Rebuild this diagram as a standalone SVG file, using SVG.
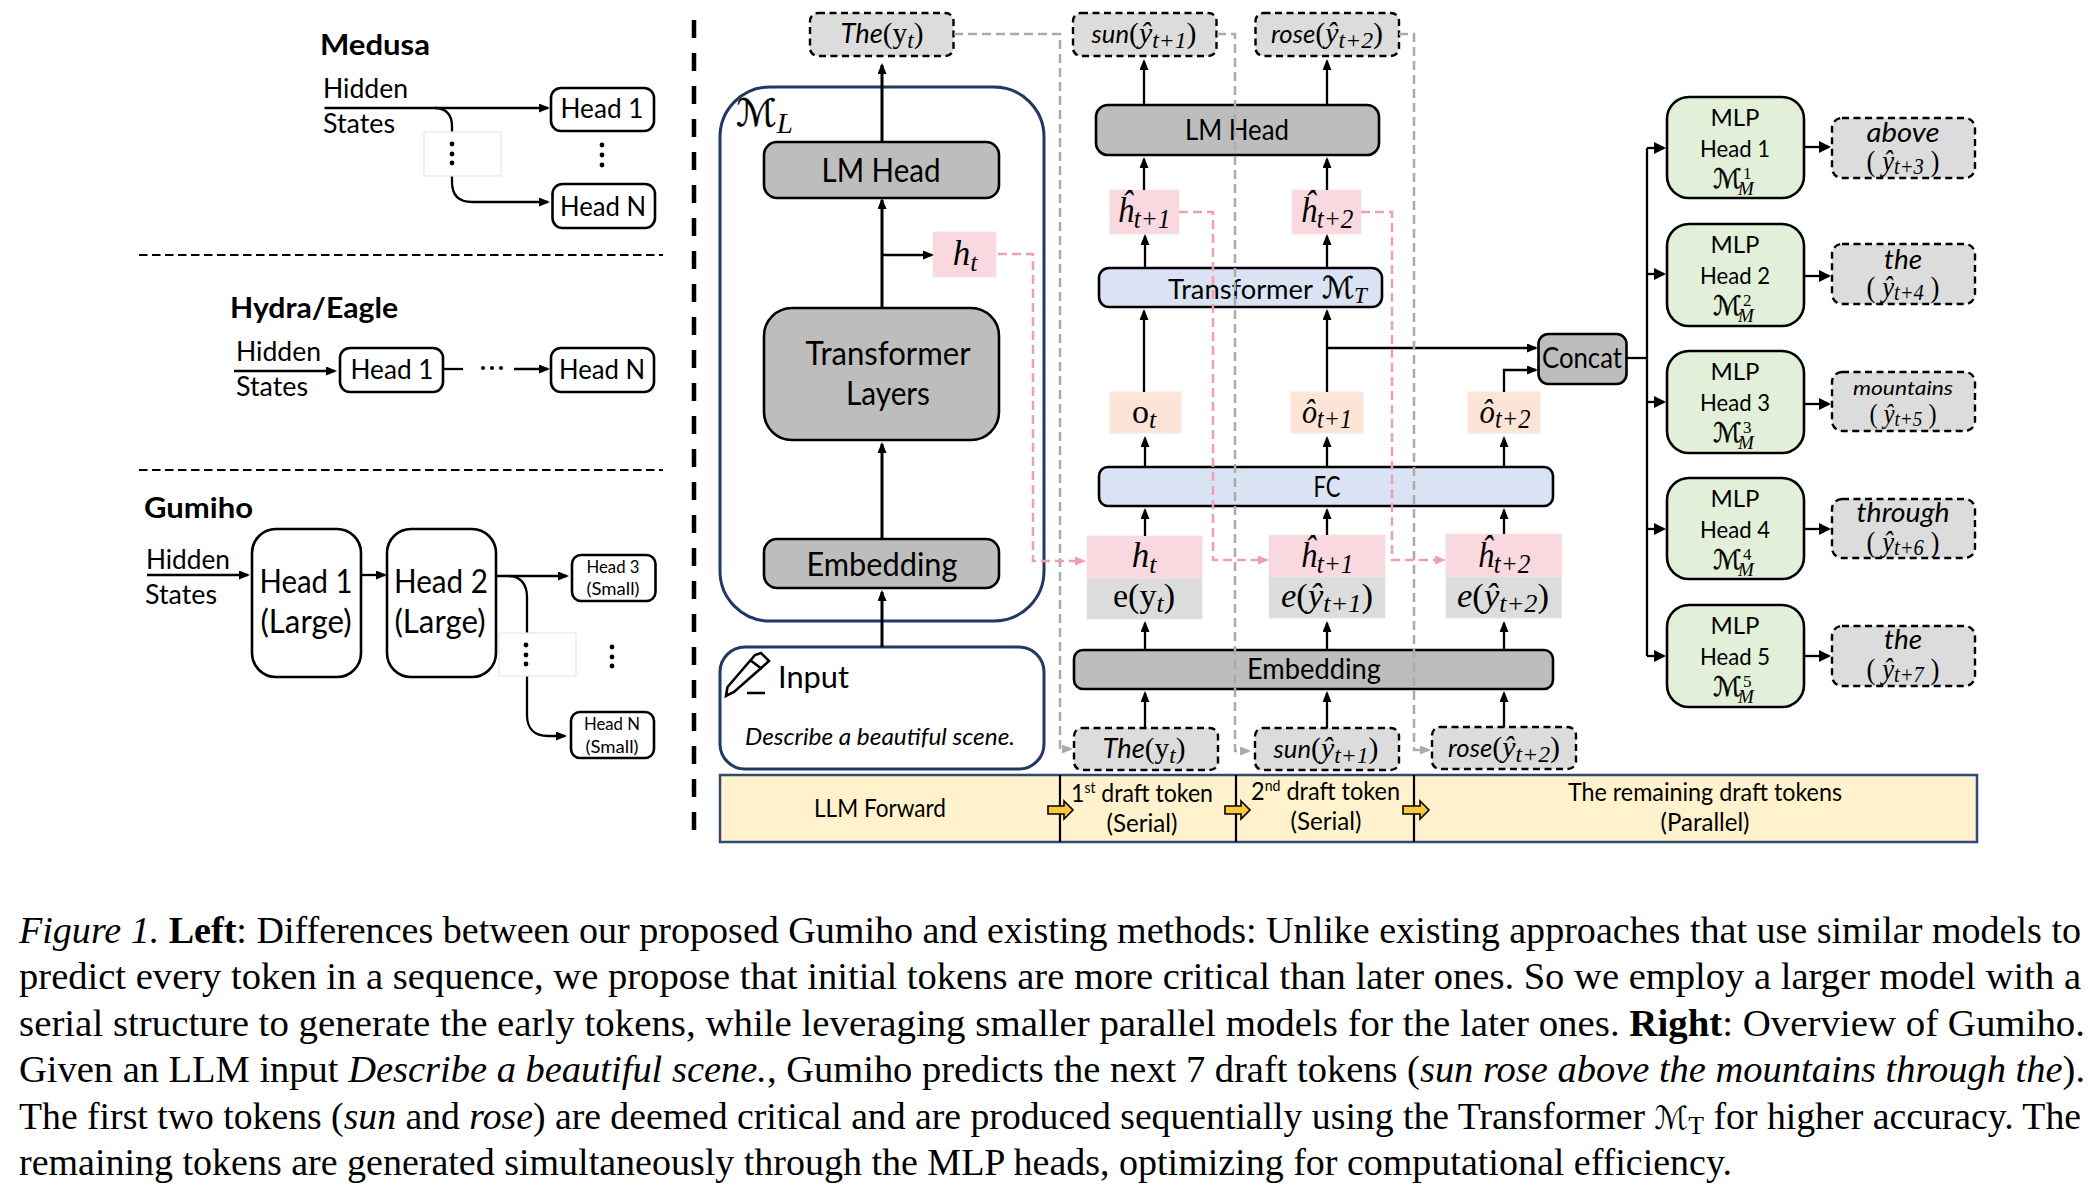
<svg xmlns="http://www.w3.org/2000/svg" width="2094" height="1200" viewBox="0 0 2094 1200">
<defs>
<style>
text{font-family:"Lato","Noto Sans",sans-serif;fill:#000}
.m{text-anchor:middle}
.b{font-weight:700;font-size:29px}
.t24{font-size:24px}.t26{font-size:26px}.t28{font-size:28px}.t32{font-size:32px}
.math{font-family:"Liberation Serif",serif}
.i{font-style:italic}
.script{font-family:"DejaVu Sans",sans-serif;font-style:normal;stroke:#000;stroke-width:.45}
.w{fill:#fff;stroke:#000;stroke-width:2.6}
.gb{fill:#bdbdbd;stroke:#000;stroke-width:2.6}
.bl{fill:#dae3f3;stroke:#000;stroke-width:2.6}
.gr{fill:#e2f0d9;stroke:#000;stroke-width:2.6}
.tok{fill:#dcdcdc;stroke:#000;stroke-width:2.4;stroke-dasharray:7 4.5}
.nv{fill:#fff;stroke:#1f3864;stroke-width:3}
.pk{fill:#f9d9df;stroke:#f0e3e5;stroke-width:1}
.og{fill:#fce4d6;stroke:#f5eadf;stroke-width:1}
.lg{fill:#dcdcdc;stroke:#e6e6e6;stroke-width:1}
.cv{fill:#fff;stroke:#e8e8e8;stroke-width:1.2}
.dot{fill:#000}
.c{fill:none;stroke:#000;stroke-width:2.3}
.c3{fill:none;stroke:#000;stroke-width:3}
.dg{fill:none;stroke:#ababab;stroke-width:2.5;stroke-dasharray:9 5}
.dp{fill:none;stroke:#ee9fb0;stroke-width:2.5;stroke-dasharray:9 5}
.sep{fill:none;stroke:#000;stroke-width:2.2;stroke-dasharray:8.5 4.5}
.sepv{fill:none;stroke:#000;stroke-width:4.5;stroke-dasharray:18 15}
.ya{fill:#f8c93e;stroke:#000;stroke-width:1.6}
.cap{font-family:"Liberation Serif",serif;font-size:38px}
.sup{font-family:"Liberation Serif",serif;font-size:17px;stroke:none}
.sub{font-family:"Liberation Serif",serif;font-size:19px;font-style:italic;stroke:none}
</style>
<marker id="a" markerUnits="userSpaceOnUse" viewBox="0 0 11 9" markerWidth="11" markerHeight="9" refX="9" refY="4.5" orient="auto"><path d="M0 0L11 4.5L0 9z" fill="#000"/></marker>
<marker id="al" markerUnits="userSpaceOnUse" viewBox="0 0 12 12" markerWidth="12" markerHeight="12" refX="10" refY="6" orient="auto"><path d="M0 0L12 6L0 12z" fill="#000"/></marker>
<marker id="ap" markerUnits="userSpaceOnUse" viewBox="0 0 11 9" markerWidth="11" markerHeight="9" refX="9" refY="4.5" orient="auto"><path d="M0 0L11 4.5L0 9z" fill="#ee9fb0"/></marker>
<marker id="ag" markerUnits="userSpaceOnUse" viewBox="0 0 11 9" markerWidth="11" markerHeight="9" refX="9" refY="4.5" orient="auto"><path d="M0 0L11 4.5L0 9z" fill="#ababab"/></marker>
</defs>
<rect width="2094" height="1200" fill="#fff"/>

<!-- Left panel titles and labels -->
<g id="labels-left">
<text class="b" x="320" y="55" textLength="110" lengthAdjust="spacingAndGlyphs">Medusa</text>
<text class="t26" x="323" y="98" textLength="85" lengthAdjust="spacingAndGlyphs">Hidden</text>
<text class="t26" x="323" y="133" textLength="72" lengthAdjust="spacingAndGlyphs">States</text>
<text class="b" x="230" y="318" textLength="168" lengthAdjust="spacingAndGlyphs">Hydra/Eagle</text>
<text class="t26" x="236" y="361" textLength="85" lengthAdjust="spacingAndGlyphs">Hidden</text>
<text class="t26" x="236" y="396" textLength="72" lengthAdjust="spacingAndGlyphs">States</text>
<text class="b" x="144" y="518" textLength="109" lengthAdjust="spacingAndGlyphs">Gumiho</text>
<text class="t26" x="146" y="569" textLength="84" lengthAdjust="spacingAndGlyphs">Hidden</text>
<text class="t26" x="145" y="604" textLength="72" lengthAdjust="spacingAndGlyphs">States</text>
</g>
<g id="separators">
<path class="sep" d="M139 255H663"/>
<path class="sep" d="M139 470H663"/>
<path class="sepv" d="M694 20V832"/>
</g>

<g id="medusa-head1"><rect class="w" x="551" y="88" width="103" height="43" rx="10"/><text class="m t26" x="602" y="118" textLength="83" lengthAdjust="spacingAndGlyphs">Head 1</text></g>
<g id="medusa-headN"><rect class="w" x="552.500" y="184" width="102.500" height="44" rx="10"/><text class="m t26" x="603" y="216" textLength="86" lengthAdjust="spacingAndGlyphs">Head N</text></g>
<g id="medusa-dots-right"><circle class="dot" cx="602" cy="145" r="2.4"/><circle class="dot" cx="602" cy="155" r="2.4"/><circle class="dot" cx="602" cy="165" r="2.4"/></g>

<g id="hydra-head1"><rect class="w" x="340" y="348" width="103" height="44" rx="10"/><text class="m t26" x="392" y="379" textLength="83" lengthAdjust="spacingAndGlyphs">Head 1</text></g>
<g id="hydra-headN"><rect class="w" x="551" y="348" width="103" height="44" rx="10"/><text class="m t26" x="602" y="379" textLength="86" lengthAdjust="spacingAndGlyphs">Head N</text></g>
<g id="hydra-dots"><circle class="dot" cx="483" cy="368" r="2"/><circle class="dot" cx="492" cy="368" r="2"/><circle class="dot" cx="501" cy="368" r="2"/></g>

<g id="gumiho-head1"><rect class="w" x="252" y="529" width="109" height="148" rx="24"/><text class="m t32" x="306" y="593" textLength="93" lengthAdjust="spacingAndGlyphs">Head 1</text><text class="m t32" x="306" y="633" textLength="91" lengthAdjust="spacingAndGlyphs">(Large)</text></g>
<g id="gumiho-head2"><rect class="w" x="387" y="529" width="109" height="148" rx="24"/><text class="m t32" x="441" y="593" textLength="94" lengthAdjust="spacingAndGlyphs">Head 2</text><text class="m t32" x="440" y="633" textLength="91" lengthAdjust="spacingAndGlyphs">(Large)</text></g>
<g id="gumiho-head3"><rect class="w" x="572" y="555" width="83.500" height="46" rx="9"/><text class="m" font-size="17" x="613" y="573" textLength="53" lengthAdjust="spacingAndGlyphs">Head 3</text><text class="m" font-size="17" x="613" y="595" textLength="53" lengthAdjust="spacingAndGlyphs">(Small)</text></g>
<g id="gumiho-headN"><rect class="w" x="571" y="712" width="83" height="46" rx="9"/><text class="m" font-size="17" x="612" y="730" textLength="56" lengthAdjust="spacingAndGlyphs">Head N</text><text class="m" font-size="17" x="612" y="753" textLength="53" lengthAdjust="spacingAndGlyphs">(Small)</text></g>
<g id="gumiho-dots-right"><circle class="dot" cx="612" cy="647" r="2.4"/><circle class="dot" cx="612" cy="657" r="2.4"/><circle class="dot" cx="612" cy="666" r="2.4"/></g>

<!-- Large model -->
<g id="model-large"><rect class="nv" x="720" y="87" width="324" height="534" rx="50"/><text x="736" y="126"><tspan class="script" font-size="38">ℳ</tspan><tspan class="math i" font-size="29" dy="7">L</tspan></text></g>
<g id="lm-head-large"><rect class="gb" x="764" y="142" width="235" height="56" rx="13"/><text class="m" font-size="32" x="881" y="182" textLength="119" lengthAdjust="spacingAndGlyphs">LM Head</text></g>
<g id="transformer-layers"><rect class="gb" x="764" y="308" width="235" height="132" rx="28"/><text class="m" font-size="32" x="888" y="365" textLength="165" lengthAdjust="spacingAndGlyphs">Transformer</text><text class="m" font-size="32" x="888" y="405" textLength="84" lengthAdjust="spacingAndGlyphs">Layers</text></g>
<g id="embedding-large"><rect class="gb" x="764" y="539" width="235" height="49" rx="13"/><text class="m" font-size="32" x="882" y="576" textLength="151" lengthAdjust="spacingAndGlyphs">Embedding</text></g>
<g id="ht-out"><rect class="pk" x="933" y="232" width="63" height="45"/><text class="m math i" font-size="35" x="965" y="265">h<tspan font-size="26" dy="6">t</tspan></text></g>
<g id="input"><rect class="nv" x="720" y="647" width="324" height="122" rx="25"/><path d="M727.500 687L755 655L761 653L769 661L734 692L726 696Z M750 660L762 669 M747 693H765" fill="none" stroke="#000" stroke-width="2.6"/><text x="778" y="688" font-size="30" textLength="71" lengthAdjust="spacingAndGlyphs">Input</text><text class="i" x="745" y="745" font-size="23" textLength="270" lengthAdjust="spacingAndGlyphs">Describe a beautiful scene.</text></g>

<g id="token-the-top"><rect class="tok" x="810" y="13" width="143.500" height="43" rx="8"/><text class="m" x="882" y="43" textLength="83" lengthAdjust="spacingAndGlyphs"><tspan class="i" font-size="27">The</tspan><tspan class="math" font-size="29">(y</tspan><tspan class="math i" font-size="23" dy="5">t</tspan><tspan class="math" font-size="29" dy="-5">)</tspan></text></g>
<g id="token-sun-top"><rect class="tok" x="1073" y="13" width="143.500" height="43" rx="8"/><text class="m" x="1144" y="43" textLength="105" lengthAdjust="spacingAndGlyphs"><tspan class="i" font-size="25">sun</tspan><tspan class="math" font-size="29">(</tspan><tspan class="math i" font-size="29">ŷ</tspan><tspan class="math i" font-size="23" dy="5">t+1</tspan><tspan class="math" font-size="29" dy="-5">)</tspan></text></g>
<g id="token-rose-top"><rect class="tok" x="1255.500" y="13" width="143.500" height="43" rx="8"/><text class="m" x="1327" y="43" textLength="112" lengthAdjust="spacingAndGlyphs"><tspan class="i" font-size="25">rose</tspan><tspan class="math" font-size="29">(</tspan><tspan class="math i" font-size="29">ŷ</tspan><tspan class="math i" font-size="23" dy="5">t+2</tspan><tspan class="math" font-size="29" dy="-5">)</tspan></text></g>

<g id="lm-head"><rect class="gb" x="1096" y="105" width="283" height="50" rx="12"/><text class="m" font-size="29" x="1237" y="140" textLength="104" lengthAdjust="spacingAndGlyphs">LM Head</text></g>
<g id="h-t1"><rect class="pk" x="1110" y="190" width="69" height="44"/><text class="m math i" font-size="35" x="1144" y="222" textLength="53" lengthAdjust="spacingAndGlyphs">ĥ<tspan font-size="27" dy="6">t+1</tspan></text></g>
<g id="h-t2"><rect class="pk" x="1292" y="190" width="69" height="44"/><text class="m math i" font-size="35" x="1327" y="222" textLength="53" lengthAdjust="spacingAndGlyphs">ĥ<tspan font-size="27" dy="6">t+2</tspan></text></g>
<g id="transformer-mt"><rect class="bl" x="1099" y="268" width="283" height="39" rx="10"/><text x="1168" y="299" font-size="27"><tspan textLength="145" lengthAdjust="spacingAndGlyphs">Transformer</tspan><tspan x="1322" y="298" class="script" font-size="30">ℳ</tspan><tspan class="math i" font-size="23" dy="5" style="stroke:none">T</tspan></text></g>
<g id="o-t"><rect class="og" x="1110" y="392" width="71" height="41"/><text class="m math" font-size="34" x="1144" y="423">o<tspan class="i" font-size="26" dy="5">t</tspan></text></g>
<g id="o-t1"><rect class="og" x="1291" y="392" width="72" height="41"/><text class="m math i" font-size="34" x="1327" y="423" textLength="50" lengthAdjust="spacingAndGlyphs">ô<tspan font-size="27" dy="5">t+1</tspan></text></g>
<g id="o-t2"><rect class="og" x="1468" y="392" width="72" height="41"/><text class="m math i" font-size="34" x="1505" y="423" textLength="51" lengthAdjust="spacingAndGlyphs">ô<tspan font-size="27" dy="5">t+2</tspan></text></g>
<g id="concat"><rect class="gb" x="1538.500" y="334" width="88" height="50" rx="10"/><text class="m" font-size="28" x="1582" y="368" textLength="80" lengthAdjust="spacingAndGlyphs">Concat</text></g>
<g id="fc"><rect class="bl" x="1099" y="467" width="454" height="39" rx="9"/><text class="m" font-size="28" x="1327" y="497" textLength="27" lengthAdjust="spacingAndGlyphs">FC</text></g>

<g id="stack-t"><rect class="pk" x="1087" y="536" width="115" height="42"/><rect class="lg" x="1087" y="578" width="115" height="41"/><text class="m math i" font-size="35" x="1144" y="567">h<tspan font-size="26" dy="6">t</tspan></text><text class="m math" font-size="33" x="1144" y="607" textLength="62" lengthAdjust="spacingAndGlyphs">e(y<tspan class="i" font-size="25" dy="5">t</tspan><tspan dy="-5">)</tspan></text></g>
<g id="stack-t1"><rect class="pk" x="1269" y="535" width="116" height="42"/><rect class="lg" x="1269" y="577" width="116" height="41"/><text class="m math i" font-size="35" x="1327" y="567" textLength="53" lengthAdjust="spacingAndGlyphs">ĥ<tspan font-size="27" dy="6">t+1</tspan></text><text class="m math i" font-size="33" x="1327" y="607" textLength="92" lengthAdjust="spacingAndGlyphs">e<tspan font-style="normal">(</tspan>ŷ<tspan font-size="25" dy="5">t+1</tspan><tspan font-style="normal" dy="-5">)</tspan></text></g>
<g id="stack-t2"><rect class="pk" x="1446" y="534" width="115.500" height="43"/><rect class="lg" x="1446" y="577" width="115.500" height="41"/><text class="m math i" font-size="35" x="1504" y="567" textLength="53" lengthAdjust="spacingAndGlyphs">ĥ<tspan font-size="27" dy="6">t+2</tspan></text><text class="m math i" font-size="33" x="1503" y="607" textLength="92" lengthAdjust="spacingAndGlyphs">e<tspan font-style="normal">(</tspan>ŷ<tspan font-size="25" dy="5">t+2</tspan><tspan font-style="normal" dy="-5">)</tspan></text></g>
<g id="embedding"><rect class="gb" x="1074" y="650" width="479" height="39" rx="9"/><text class="m" font-size="28" x="1314" y="679" textLength="134" lengthAdjust="spacingAndGlyphs">Embedding</text></g>

<g id="token-the"><rect class="tok" x="1074" y="728" width="144" height="42" rx="8"/><text class="m" x="1144" y="758" textLength="83" lengthAdjust="spacingAndGlyphs"><tspan class="i" font-size="27">The</tspan><tspan class="math" font-size="29">(y</tspan><tspan class="math i" font-size="23" dy="5">t</tspan><tspan class="math" font-size="29" dy="-5">)</tspan></text></g>
<g id="token-sun"><rect class="tok" x="1255" y="728" width="144" height="42" rx="8"/><text class="m" x="1326" y="758" textLength="105" lengthAdjust="spacingAndGlyphs"><tspan class="i" font-size="25">sun</tspan><tspan class="math" font-size="29">(</tspan><tspan class="math i" font-size="29">ŷ</tspan><tspan class="math i" font-size="23" dy="5">t+1</tspan><tspan class="math" font-size="29" dy="-5">)</tspan></text></g>
<g id="token-rose"><rect class="tok" x="1432" y="727" width="144" height="42" rx="8"/><text class="m" x="1504" y="757" textLength="112" lengthAdjust="spacingAndGlyphs"><tspan class="i" font-size="25">rose</tspan><tspan class="math" font-size="29">(</tspan><tspan class="math i" font-size="29">ŷ</tspan><tspan class="math i" font-size="23" dy="5">t+2</tspan><tspan class="math" font-size="29" dy="-5">)</tspan></text></g>

<!-- MLP heads -->
<g id="mlp-1"><rect class="gr" x="1667" y="97" width="137" height="101" rx="22"/><text class="m" font-size="24" x="1735" y="126">MLP</text><text class="m" font-size="24" x="1735" y="157" textLength="70" lengthAdjust="spacingAndGlyphs">Head 1</text><text x="1713" y="188"><tspan class="script" font-size="27">ℳ</tspan><tspan class="sup" x="1743" y="179">1</tspan><tspan class="sub" x="1738" y="195">M</tspan></text></g>
<g id="mlp-2"><rect class="gr" x="1667" y="224" width="137" height="102" rx="22"/><text class="m" font-size="24" x="1735" y="253">MLP</text><text class="m" font-size="24" x="1735" y="284" textLength="70" lengthAdjust="spacingAndGlyphs">Head 2</text><text x="1713" y="315"><tspan class="script" font-size="27">ℳ</tspan><tspan class="sup" x="1743" y="306">2</tspan><tspan class="sub" x="1738" y="322">M</tspan></text></g>
<g id="mlp-3"><rect class="gr" x="1667" y="351" width="137" height="102" rx="22"/><text class="m" font-size="24" x="1735" y="380">MLP</text><text class="m" font-size="24" x="1735" y="411" textLength="70" lengthAdjust="spacingAndGlyphs">Head 3</text><text x="1713" y="442"><tspan class="script" font-size="27">ℳ</tspan><tspan class="sup" x="1743" y="433">3</tspan><tspan class="sub" x="1738" y="449">M</tspan></text></g>
<g id="mlp-4"><rect class="gr" x="1667" y="478" width="137" height="101" rx="22"/><text class="m" font-size="24" x="1735" y="507">MLP</text><text class="m" font-size="24" x="1735" y="538" textLength="70" lengthAdjust="spacingAndGlyphs">Head 4</text><text x="1713" y="569"><tspan class="script" font-size="27">ℳ</tspan><tspan class="sup" x="1743" y="560">4</tspan><tspan class="sub" x="1738" y="576">M</tspan></text></g>
<g id="mlp-5"><rect class="gr" x="1667" y="605" width="137" height="102" rx="22"/><text class="m" font-size="24" x="1735" y="634">MLP</text><text class="m" font-size="24" x="1735" y="665" textLength="70" lengthAdjust="spacingAndGlyphs">Head 5</text><text x="1713" y="696"><tspan class="script" font-size="27">ℳ</tspan><tspan class="sup" x="1743" y="687">5</tspan><tspan class="sub" x="1738" y="703">M</tspan></text></g>

<g id="out-above"><rect class="tok" x="1832" y="118" width="143" height="60" rx="10"/><text class="m i" font-size="27" x="1903" y="142" textLength="73" lengthAdjust="spacingAndGlyphs">above</text><text class="m math" font-size="30" x="1903" y="171" textLength="73" lengthAdjust="spacingAndGlyphs">( <tspan class="i">ŷ</tspan><tspan class="i" font-size="23" dy="3">t+3</tspan><tspan dy="-3"> )</tspan></text></g>
<g id="out-the-1"><rect class="tok" x="1832" y="244" width="143" height="60" rx="10"/><text class="m i" font-size="27" x="1903" y="269" textLength="38" lengthAdjust="spacingAndGlyphs">the</text><text class="m math" font-size="30" x="1903" y="297" textLength="73" lengthAdjust="spacingAndGlyphs">( <tspan class="i">ŷ</tspan><tspan class="i" font-size="23" dy="3">t+4</tspan><tspan dy="-3"> )</tspan></text></g>
<g id="out-mountains"><rect class="tok" x="1832" y="372" width="143" height="59" rx="10"/><text class="m i" font-size="20" x="1903" y="395" textLength="100" lengthAdjust="spacingAndGlyphs">mountains</text><text class="m math" font-size="28" x="1903" y="423" textLength="67" lengthAdjust="spacingAndGlyphs">( <tspan class="i">ŷ</tspan><tspan class="i" font-size="22" dy="3">t+5</tspan><tspan dy="-3"> )</tspan></text></g>
<g id="out-through"><rect class="tok" x="1832" y="499" width="143" height="59" rx="10"/><text class="m i" font-size="27" x="1903" y="522" textLength="93" lengthAdjust="spacingAndGlyphs">through</text><text class="m math" font-size="30" x="1903" y="552" textLength="73" lengthAdjust="spacingAndGlyphs">( <tspan class="i">ŷ</tspan><tspan class="i" font-size="23" dy="3">t+6</tspan><tspan dy="-3"> )</tspan></text></g>
<g id="out-the-2"><rect class="tok" x="1832" y="626" width="143" height="60" rx="10"/><text class="m i" font-size="27" x="1903" y="649" textLength="38" lengthAdjust="spacingAndGlyphs">the</text><text class="m math" font-size="30" x="1903" y="679" textLength="73" lengthAdjust="spacingAndGlyphs">( <tspan class="i">ŷ</tspan><tspan class="i" font-size="23" dy="3">t+7</tspan><tspan dy="-3"> )</tspan></text></g>

<!-- Connectors -->
<g id="connectors">
<path class="c" d="M324.500 108H548" marker-end="url(#a)"/>
<path class="c" d="M435 108C446 108 452 115 452 126V182C452 195 459 202 472 202H548" marker-end="url(#a)"/>
<path class="c" d="M234 371H335" marker-end="url(#a)"/>
<path class="c" d="M443 369H463"/>
<path class="c" d="M514 369H548" marker-end="url(#a)"/>
<path class="c" d="M147 575H248" marker-end="url(#a)"/>
<path class="c" d="M361 575H385" marker-end="url(#a)"/>
<path class="c" d="M496 576H567" marker-end="url(#a)"/>
<path class="c" d="M509 576C520 576 527 584 527 597V715C527 728 534 736 548 736H565" marker-end="url(#a)"/>

<path class="c3" d="M882 142V65" marker-end="url(#a)"/>
<path class="c3" d="M882 308V200" marker-end="url(#a)"/>
<path class="c" d="M882 255H932" marker-end="url(#a)"/>
<path class="c3" d="M882 539V444" marker-end="url(#a)"/>
<path class="c3" d="M882 647V592" marker-end="url(#a)"/>

<path class="c" d="M1144 105V61" marker-end="url(#a)"/>
<path class="c" d="M1327 105V61" marker-end="url(#a)"/>
<path class="c" d="M1144 190V159" marker-end="url(#a)"/>
<path class="c" d="M1327 190V159" marker-end="url(#a)"/>
<path class="c" d="M1145 268V236" marker-end="url(#a)"/>
<path class="c" d="M1327 268V236" marker-end="url(#a)"/>
<path class="c" d="M1144 392V311" marker-end="url(#a)"/>
<path class="c" d="M1327 392V311" marker-end="url(#a)"/>
<path class="c" d="M1327 348H1536" marker-end="url(#a)"/>
<path class="c" d="M1504 392V370H1536" marker-end="url(#a)"/>
<path class="c" d="M1145 467V438" marker-end="url(#a)"/>
<path class="c" d="M1327 467V438" marker-end="url(#a)"/>
<path class="c" d="M1504 467V438" marker-end="url(#a)"/>
<path class="c" d="M1145 536V510" marker-end="url(#a)"/>
<path class="c" d="M1327 535V510" marker-end="url(#a)"/>
<path class="c" d="M1504 534V510" marker-end="url(#a)"/>
<path class="c" d="M1145 650V623" marker-end="url(#a)"/>
<path class="c" d="M1327 650V623" marker-end="url(#a)"/>
<path class="c" d="M1504 650V623" marker-end="url(#a)"/>
<path class="c" d="M1145 728V693" marker-end="url(#a)"/>
<path class="c" d="M1327 728V693" marker-end="url(#a)"/>
<path class="c" d="M1504 727V693" marker-end="url(#a)"/>

<path class="c" d="M1627 358H1647"/>
<path class="c" d="M1647 148V656"/>
<path class="c" d="M1647 148H1664" marker-end="url(#al)"/>
<path class="c" d="M1647 274H1664" marker-end="url(#al)"/>
<path class="c" d="M1647 402H1664" marker-end="url(#al)"/>
<path class="c" d="M1647 529H1664" marker-end="url(#al)"/>
<path class="c" d="M1647 656H1664" marker-end="url(#al)"/>
<path class="c" d="M1804 147H1829" marker-end="url(#al)"/>
<path class="c" d="M1804 276H1829" marker-end="url(#al)"/>
<path class="c" d="M1804 404H1829" marker-end="url(#al)"/>
<path class="c" d="M1804 529H1829" marker-end="url(#al)"/>
<path class="c" d="M1804 656H1829" marker-end="url(#al)"/>

<path class="dg" d="M954 34H1060V749H1071" marker-end="url(#ag)"/>
<path class="dg" d="M1217 34H1235V751H1249" marker-end="url(#ag)"/>
<path class="dg" d="M1399 34H1414V750H1429" marker-end="url(#ag)"/>
<path class="dp" d="M998 254H1033V561H1084" marker-end="url(#ap)"/>
<path class="dp" d="M1179 212H1213V560H1267" marker-end="url(#ap)"/>
<path class="dp" d="M1361 212H1392V560H1444" marker-end="url(#ap)"/>
</g>

<!-- Covers with dots, on top of the branch lines -->
<g id="medusa-dots"><rect class="cv" x="424" y="132" width="77" height="44"/><circle class="dot" cx="452" cy="144" r="2.4"/><circle class="dot" cx="452" cy="154" r="2.4"/><circle class="dot" cx="452" cy="163" r="2.4"/></g>
<g id="gumiho-dots"><rect class="cv" x="499" y="633" width="77" height="43"/><circle class="dot" cx="526" cy="645" r="2.4"/><circle class="dot" cx="526" cy="655" r="2.4"/><circle class="dot" cx="526" cy="664" r="2.4"/></g>

<!-- Timeline -->
<g id="timeline"><rect x="720" y="775" width="1257" height="67" fill="#fff2cc" stroke="#2f4a73" stroke-width="2.5"/>
<path d="M1060 775V842M1236 775V842M1414 775V842" stroke="#000" stroke-width="2.2" fill="none"/>
<text class="m" font-size="25" x="880" y="817" textLength="132" lengthAdjust="spacingAndGlyphs">LLM Forward</text>
<text x="1071" y="802" font-size="25" textLength="142" lengthAdjust="spacingAndGlyphs">1<tspan font-size="15" dy="-9">st</tspan><tspan dy="9"> draft token</tspan></text>
<text class="m" font-size="25" x="1142" y="832" textLength="71" lengthAdjust="spacingAndGlyphs">(Serial)</text>
<text x="1251" y="800" font-size="25" textLength="149" lengthAdjust="spacingAndGlyphs">2<tspan font-size="15" dy="-9">nd</tspan><tspan dy="9"> draft token</tspan></text>
<text class="m" font-size="25" x="1326" y="830" textLength="71" lengthAdjust="spacingAndGlyphs">(Serial)</text>
<text class="m" font-size="25" x="1705" y="801" textLength="274" lengthAdjust="spacingAndGlyphs">The remaining draft tokens</text>
<text class="m" font-size="25" x="1705" y="831" textLength="89" lengthAdjust="spacingAndGlyphs">(Parallel)</text>
<path class="ya" d="M1048 806H1064V801L1073 810L1064 819V814H1048Z"/>
<path class="ya" d="M1225 806H1241V801L1250 810L1241 819V814H1225Z"/>
<path class="ya" d="M1403 806H1420V801L1429 810L1420 819V814H1403Z"/>
</g>

<!-- Caption -->
<g id="caption">
<text class="cap" x="19" y="942.500" textLength="2062" lengthAdjust="spacingAndGlyphs"><tspan font-style="italic">Figure 1.</tspan> <tspan font-weight="700">Left</tspan>: Differences between our proposed Gumiho and existing methods: Unlike existing approaches that use similar models to</text>
<text class="cap" x="19" y="989" textLength="2062" lengthAdjust="spacingAndGlyphs">predict every token in a sequence, we propose that initial tokens are more critical than later ones. So we employ a larger model with a</text>
<text class="cap" x="19" y="1035.500" textLength="2066" lengthAdjust="spacingAndGlyphs">serial structure to generate the early tokens, while leveraging smaller parallel models for the later ones. <tspan font-weight="700">Right</tspan>: Overview of Gumiho.</text>
<text class="cap" x="19" y="1082" textLength="2066" lengthAdjust="spacingAndGlyphs">Given an LLM input <tspan font-style="italic">Describe a beautiful scene.</tspan>, Gumiho predicts the next 7 draft tokens (<tspan font-style="italic">sun rose above the mountains through the</tspan>).</text>
<text class="cap" x="19" y="1128.500" textLength="2062" lengthAdjust="spacingAndGlyphs">The first two tokens (<tspan font-style="italic">sun</tspan> and <tspan font-style="italic">rose</tspan>) are deemed critical and are produced sequentially using the Transformer <tspan font-family="DejaVu Sans" font-size="32">ℳ</tspan><tspan font-size="26" dy="5">T</tspan><tspan dy="-5"> for higher accuracy. The</tspan></text>
<text class="cap" x="19" y="1175" textLength="1713" lengthAdjust="spacingAndGlyphs">remaining tokens are generated simultaneously through the MLP heads, optimizing for computational efficiency.</text>
</g>
</svg>
